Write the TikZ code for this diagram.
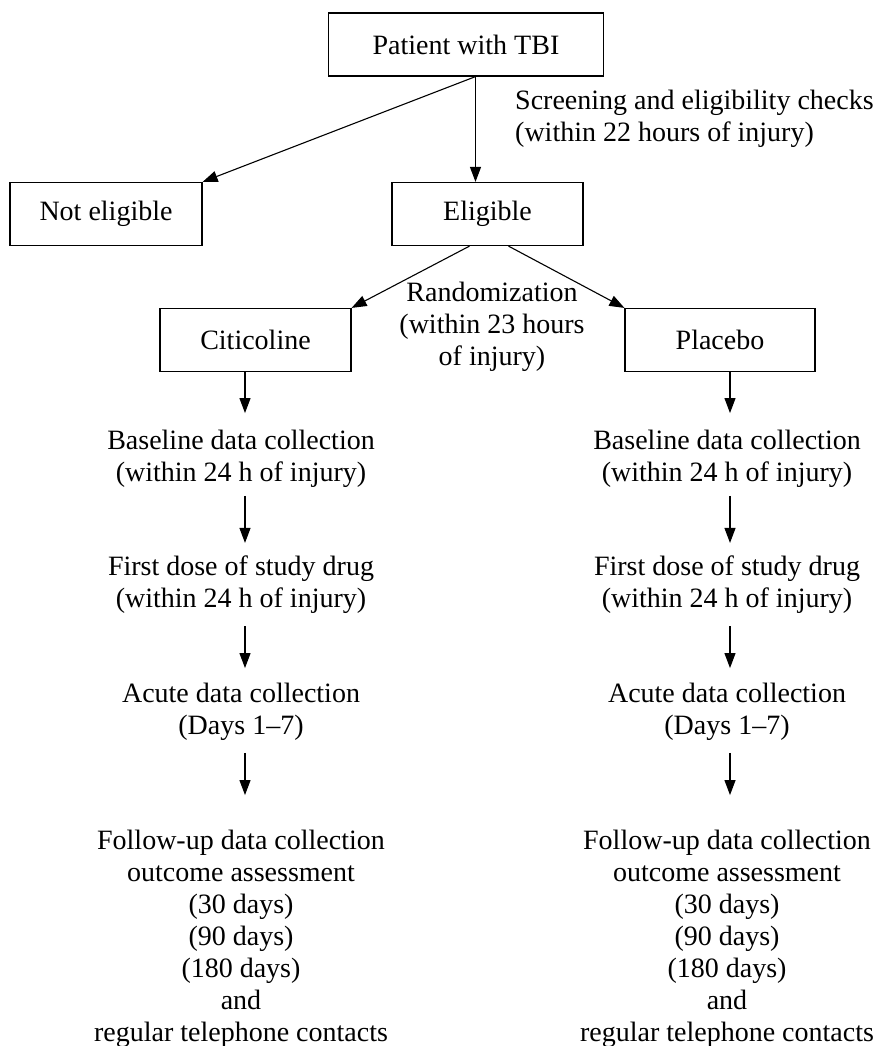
\documentclass[tikz,border=0pt]{standalone}
\usepackage{fontspec}
\setmainfont{Liberation Serif}
\usetikzlibrary{arrows.meta}
\begin{document}
\begin{tikzpicture}[x=1pt,y=-1pt,
  every node/.style={font=\fontsize{28}{32}\selectfont},
  box/.style={draw,line width=1.2pt,minimum height=63pt,inner sep=0pt},
  txt/.style={align=center,inner sep=0pt},
  arr/.style={line width=1.1pt,-{Triangle[length=15pt,width=11pt]}}]
\useasboundingbox (0,0) rectangle (879,1046);
% boxes
\node[box,minimum width=275pt] (pat) at (466,44.5) {Patient with TBI};
\node[box,minimum width=192pt] (ne) at (106,214) {Not eligible};
\node[box,minimum width=191pt] (elig) at (487.5,214) {Eligible};
\node[box,minimum width=191pt] (cit) at (255.5,340) {Citicoline};
\node[box,minimum width=190pt] (plac) at (720,340) {Placebo};
% labels
\node[txt,align=left,anchor=west] (scr) at (515,119) {Screening and eligibility checks\\(within 22 hours of injury)};
\node[txt] (rand) at (492,327) {Randomization\\(within 23 hours\\of injury)};
% left column
\node[txt] (bl) at (241,459) {Baseline data collection\\(within 24 h of injury)};
\node[txt] (dl) at (241,585) {First dose of study drug\\(within 24 h of injury)};
\node[txt] (al) at (241,712) {Acute data collection\\(Days 1--7)};
\node[txt] (fl) at (241,939) {Follow-up data collection\\outcome assessment\\(30 days)\\(90 days)\\(180 days)\\and\\regular telephone contacts};
% right column
\node[txt] (br) at (727,459) {Baseline data collection\\(within 24 h of injury)};
\node[txt] (dr) at (727,585) {First dose of study drug\\(within 24 h of injury)};
\node[txt] (ar) at (727,712) {Acute data collection\\(Days 1--7)};
\node[txt] (fr) at (727,939) {Follow-up data collection\\outcome assessment\\(30 days)\\(90 days)\\(180 days)\\and\\regular telephone contacts};
% connectors
\draw[arr] ([xshift=9.5pt]pat.south) -- ([xshift=9.5pt]pat.south |- elig.north);
\draw[arr] ([xshift=9.5pt]pat.south) -- (ne.north east);
\draw[arr] ([xshift=-18pt]elig.south) -- (cit.north east);
\draw[arr] ([xshift=21pt]elig.south) -- (plac.north west);
\draw[arr,shorten >=17pt] ([xshift=-10.5pt]cit.south) -- ([xshift=-10.5pt]cit.south |- bl.north);
\draw[arr,shorten <=8pt,shorten >=13pt] ([xshift=4pt]bl.south) -- ([xshift=4pt]dl.north);
\draw[arr,shorten <=12pt,shorten >=15pt] ([xshift=4pt]dl.south) -- ([xshift=4pt]al.north);
\draw[arr,shorten <=12pt,shorten >=35pt] ([xshift=4pt]al.south) -- ([xshift=4pt]fl.north);
\draw[arr,shorten >=17pt] ([xshift=10pt]plac.south) -- ([xshift=10pt]plac.south |- br.north);
\draw[arr,shorten <=8pt,shorten >=13pt] ([xshift=3pt]br.south) -- ([xshift=3pt]dr.north);
\draw[arr,shorten <=12pt,shorten >=15pt] ([xshift=3pt]dr.south) -- ([xshift=3pt]ar.north);
\draw[arr,shorten <=12pt,shorten >=35pt] ([xshift=3pt]ar.south) -- ([xshift=3pt]fr.north);
\end{tikzpicture}
\end{document}
